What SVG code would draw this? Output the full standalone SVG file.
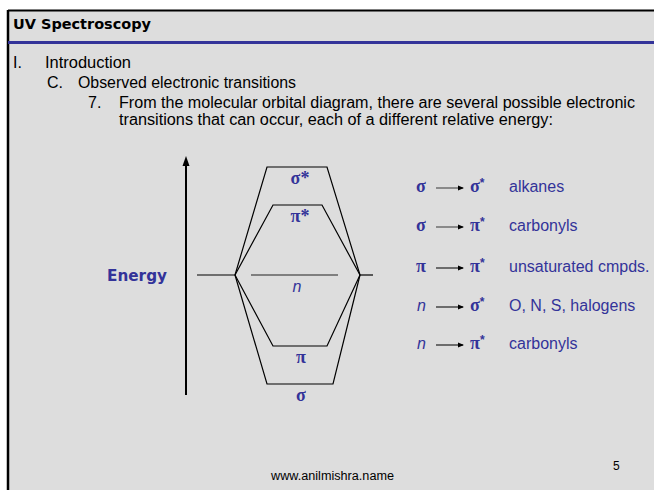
<svg xmlns="http://www.w3.org/2000/svg" width="654" height="490" viewBox="0 0 654 490">
<defs>
<style>
.body{font-family:"Liberation Sans","DejaVu Sans",sans-serif;font-size:16px;fill:#000}
.gk{font-family:"Liberation Serif","DejaVu Serif",serif;font-weight:bold;fill:#333399}
.nn{font-family:"Liberation Sans","DejaVu Sans",sans-serif;font-style:italic;fill:#333399}
.lbl{font-family:"Liberation Sans","DejaVu Sans",sans-serif;font-size:16px;fill:#333399}
.mo{stroke:#000;stroke-width:1.2;fill:none}
.la{stroke:#222;stroke-width:1.2;marker-end:url(#ah)}
.lg{stroke:#666;stroke-width:1.4;marker-end:url(#ah)}
.sup{font-size:12px;font-family:"Liberation Sans",sans-serif;font-weight:bold}
</style>
<marker id="ah" markerWidth="6" markerHeight="6" refX="5" refY="3" orient="auto" markerUnits="userSpaceOnUse">
<path d="M0,0.5 L6,3 L0,5.5 Z" fill="#000"/>
</marker>
</defs>
<rect x="0" y="0" width="654" height="490" fill="#ffffff"/>
<rect x="8" y="10" width="646" height="480" fill="#DDDDDD"/>
<line x1="8" y1="10.5" x2="654" y2="10.5" stroke="#000" stroke-width="2"/>
<line x1="8" y1="10" x2="8" y2="490" stroke="#000" stroke-width="2.5"/>
<line x1="8" y1="42.5" x2="654" y2="42.5" stroke="#333399" stroke-width="3"/>

<text x="13" y="29" font-family="DejaVu Sans, Liberation Sans, sans-serif" font-size="14" font-weight="bold" textLength="138" lengthAdjust="spacingAndGlyphs">UV Spectroscopy</text>

<g class="body">
<text x="13" y="68">I.</text>
<text x="45" y="68" textLength="86" lengthAdjust="spacingAndGlyphs">Introduction</text>
<text x="47" y="88">C.</text>
<text x="78" y="88" textLength="218" lengthAdjust="spacingAndGlyphs">Observed electronic transitions</text>
<text x="88" y="108">7.</text>
<text x="119" y="108" textLength="516" lengthAdjust="spacingAndGlyphs">From the molecular orbital diagram, there are several possible electronic</text>
<text x="119" y="125" textLength="434" lengthAdjust="spacingAndGlyphs">transitions that can occur, each of a different relative energy:</text>
</g>

<g id="energy-axis">
<line x1="186" y1="395" x2="186" y2="164" stroke="#000" stroke-width="2"/>
<path d="M182.5,166 L186,156 L189.5,166 Z" fill="#000"/>
<text x="137" y="281" text-anchor="middle" font-family="DejaVu Sans, Liberation Sans, sans-serif" font-size="16" font-weight="bold" fill="#333399" textLength="60" lengthAdjust="spacingAndGlyphs">Energy</text>
</g>

<g id="mo-diagram">
<line class="mo" x1="197" y1="275" x2="235" y2="275"/>
<line class="mo" x1="360" y1="275" x2="373" y2="275"/>
<path class="mo" d="M235,275 L267,167 L327,167 L360,275"/>
<path class="mo" d="M235,275 L273,205 L322,205 L360,275"/>
<path class="mo" d="M235,275 L273,346 L327,346 L360,275"/>
<path class="mo" d="M235,275 L267,384 L333,384 L360,275"/>
<line x1="251" y1="275" x2="338" y2="275" stroke="#222" stroke-width="1.2"/>
<text class="gk" x="300" y="184" font-size="18" text-anchor="middle">σ*</text>
<text class="gk" x="300" y="222" font-size="18" text-anchor="middle">π*</text>
<text class="nn" x="297" y="292" font-size="16" text-anchor="middle">n</text>
<text class="gk" x="301" y="363" font-size="18" text-anchor="middle">π</text>
<text class="gk" x="301" y="401" font-size="18" text-anchor="middle">σ</text>
</g>

<g id="transitions">
<g id="t1">
<text class="gk" x="416" y="192" font-size="18">σ</text>
<line class="lg" x1="436" y1="188" x2="463" y2="188"/>
<text class="gk" x="470" y="192" font-size="18">σ<tspan class="sup" dy="-5">*</tspan></text>
<text class="lbl" x="509" y="192">alkanes</text>
</g>
<g id="t2">
<text class="gk" x="416" y="231" font-size="18">σ</text>
<line class="lg" x1="436" y1="227" x2="463" y2="227"/>
<text class="gk" x="470" y="231" font-size="18">π<tspan class="sup" dy="-5">*</tspan></text>
<text class="lbl" x="509" y="231">carbonyls</text>
</g>
<g id="t3">
<text class="gk" x="416" y="272" font-size="18">π</text>
<line class="la" x1="436" y1="268" x2="463" y2="268"/>
<text class="gk" x="470" y="272" font-size="18">π<tspan class="sup" dy="-5">*</tspan></text>
<text class="lbl" x="509" y="272">unsaturated cmpds.</text>
</g>
<g id="t4">
<text class="nn" x="417" y="311" font-size="16">n</text>
<line class="la" x1="436" y1="307" x2="463" y2="307"/>
<text class="gk" x="470" y="311" font-size="18">σ<tspan class="sup" dy="-5">*</tspan></text>
<text class="lbl" x="509" y="311">O, N, S, halogens</text>
</g>
<g id="t5">
<text class="nn" x="417" y="349" font-size="16">n</text>
<line class="la" x1="436" y1="345" x2="463" y2="345"/>
<text class="gk" x="470" y="349" font-size="18">π<tspan class="sup" dy="-5">*</tspan></text>
<text class="lbl" x="509" y="349">carbonyls</text>
</g>
</g>

<text x="271" y="480" font-family="Liberation Sans, DejaVu Sans, sans-serif" font-size="12" textLength="123" lengthAdjust="spacingAndGlyphs">www.anilmishra.name</text>
<text x="613" y="470" font-family="Liberation Sans, DejaVu Sans, sans-serif" font-size="12">5</text>
</svg>
